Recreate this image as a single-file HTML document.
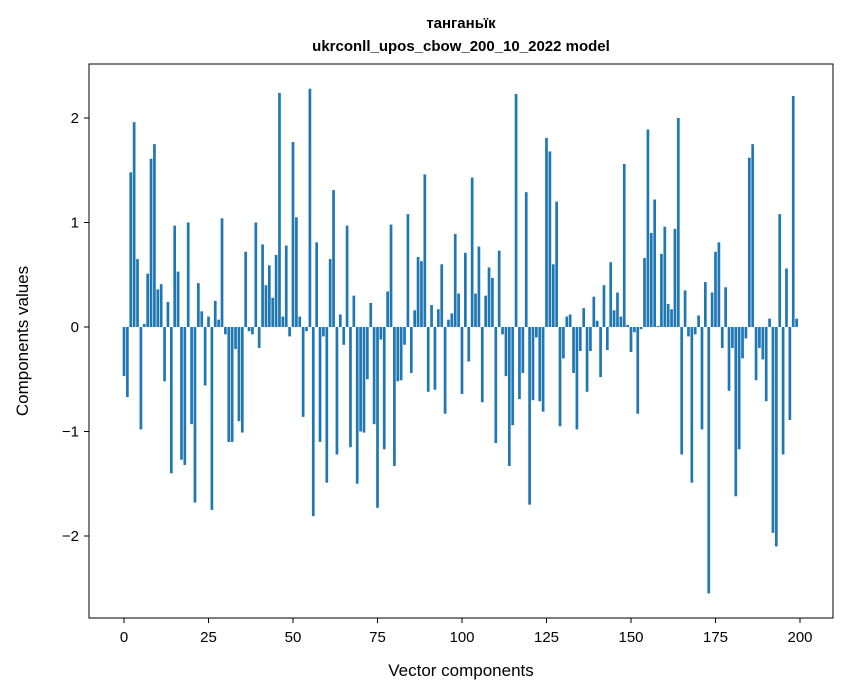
<!DOCTYPE html>
<html><head><meta charset="utf-8"><style>body{margin:0;background:#fff}svg{display:block;font-family:"Liberation Sans","DejaVu Sans",sans-serif}</style></head>
<body>
<svg id="chart" width="847" height="696" viewBox="0 0 847 696" xmlns="http://www.w3.org/2000/svg">
<rect width="847" height="696" fill="#fff"/>
<text x="461" y="28" text-anchor="middle" font-size="15" font-weight="bold">танганьїк</text>
<text x="461" y="51" text-anchor="middle" font-size="15" font-weight="bold">ukrconll_upos_cbow_200_10_2022 model</text>
<g id="bars"></g>
<g id="axes"></g>
<rect x="89" y="64" width="744" height="554" fill="none" stroke="#000" stroke-width="1"/>
<text x="461" y="676" text-anchor="middle" font-size="17">Vector components</text>
<text transform="translate(28,341) rotate(-90)" text-anchor="middle" font-size="17">Components values</text>
</svg>
<script>
const values = [-0.47,-0.67,1.48,1.96,0.65,-0.98,0.03,0.51,1.61,1.75,0.36,0.41,-0.52,0.24,-1.40,0.97,0.53,-1.27,-1.32,1.0,-0.93,-1.68,0.42,0.15,-0.56,0.10,-1.75,0.25,0.07,1.04,-0.07,-1.10,-1.10,-0.21,-0.90,-1.01,0.72,-0.04,-0.07,1.0,-0.20,0.79,0.40,0.59,0.28,0.69,2.24,0.10,0.78,-0.09,1.77,1.05,0.10,-0.86,-0.04,2.28,-1.81,0.81,-1.10,-0.09,-1.49,0.65,1.31,-1.22,0.12,-0.17,0.97,-1.15,0.30,-1.50,-1.00,-1.01,-0.50,0.23,-0.93,-1.73,-0.12,-1.17,0.34,0.98,-1.33,-0.52,-0.51,-0.17,1.08,-0.44,0.16,0.67,0.63,1.46,-0.62,0.21,-0.60,0.17,0.60,-0.83,0.07,0.13,0.89,0.32,-0.64,0.71,-0.33,1.43,0.32,0.77,-0.72,0.30,0.57,0.47,-1.11,0.73,-0.07,-0.47,-1.33,-0.94,2.23,-0.69,-0.44,1.29,-1.70,-0.70,-0.10,-0.71,-0.81,1.81,1.68,0.60,1.20,-0.95,-0.30,0.10,0.12,-0.44,-0.98,-0.23,0.18,-0.62,-0.23,0.29,0.06,-0.48,0.40,-0.22,0.62,0.16,0.33,0.10,1.56,0.02,-0.24,-0.05,-0.83,-0.02,0.66,1.89,0.90,1.22,0.01,0.70,0.96,0.22,0.17,0.94,2.0,-1.22,0.35,-0.09,-1.49,-0.07,0.11,-0.98,0.43,-2.55,0.33,0.72,0.81,-0.20,0.38,-0.61,-0.20,-1.62,-1.17,-0.30,-0.11,1.62,1.75,-0.51,-0.20,-0.31,-0.71,0.08,-1.97,-2.10,1.08,-1.22,0.56,-0.89,2.21,0.08];
const xTicks = [0,25,50,75,100,125,150,175,200];
const yTicks = [-2,-1,0,1,2];
const yTickLabels = ["\u22122","\u22121","0","1","2"];
const NS = "http://www.w3.org/2000/svg";
function xs(i){return 124 + i*(676/200);}
function ys(v){return 327 - v*104.5;}
const barsG = document.getElementById('bars');
const bw = 0.8*676/200;
values.forEach((v,i)=>{
  const r = document.createElementNS(NS,'rect');
  
  
  r.setAttribute('x', xs(i)-bw/2);
  r.setAttribute('y', Math.min(ys(v), ys(0)));
  r.setAttribute('width', bw);
  r.setAttribute('height', Math.abs(ys(v)-ys(0)));
  r.setAttribute('fill', '#1f77b4');
  barsG.appendChild(r);
});
const ax = document.getElementById('axes');
xTicks.forEach(t=>{
  const l = document.createElementNS(NS,'line');
  
  
  l.setAttribute('x1', xs(t)); l.setAttribute('x2', xs(t));
  l.setAttribute('y1', 618); l.setAttribute('y2', 623);
  l.setAttribute('stroke', '#000');
  ax.appendChild(l);
  const tx = document.createElementNS(NS,'text');
  
  
  tx.setAttribute('x', xs(t)); tx.setAttribute('y', 642);
  tx.setAttribute('text-anchor', 'middle'); tx.setAttribute('font-size', '15');
  tx.textContent = t;
  ax.appendChild(tx);
});
yTicks.forEach((t,k)=>{
  const l = document.createElementNS(NS,'line');
  
  
  l.setAttribute('x1', 84); l.setAttribute('x2', 89);
  l.setAttribute('y1', ys(t)); l.setAttribute('y2', ys(t));
  l.setAttribute('stroke', '#000');
  ax.appendChild(l);
  const tx = document.createElementNS(NS,'text');
  
  
  tx.setAttribute('x', 79); tx.setAttribute('y', ys(t)+5);
  tx.setAttribute('text-anchor', 'end'); tx.setAttribute('font-size', '15');
  tx.textContent = yTickLabels[k];
  ax.appendChild(tx);
});
</script>
</body></html>
